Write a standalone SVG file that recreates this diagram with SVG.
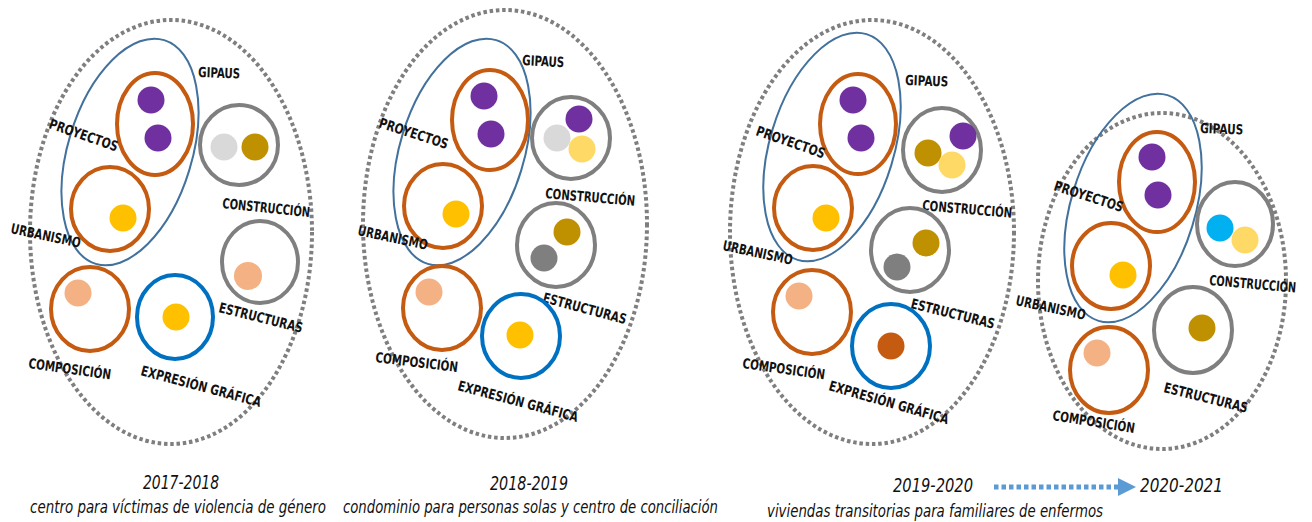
<svg xmlns="http://www.w3.org/2000/svg" width="1312" height="522" viewBox="0 0 1312 522">
<defs>
<style>
.outer{fill:none;stroke:#7f7f7f;stroke-width:4;stroke-dasharray:3.5 2.8}
.gip{fill:none;stroke:#41719c;stroke-width:2}
.or{fill:#fff;stroke:#c55a11;stroke-width:4}
.gr{fill:#fff;stroke:#7f7f7f;stroke-width:4}
.bl{fill:#fff;stroke:#0070c0;stroke-width:4}
.pu{fill:#7030a0}
.ye{fill:#ffc000}
.ly{fill:#ffd966}
.lg{fill:#d9d9d9}
.go{fill:#bf9000}
.dg{fill:#7f7f7f}
.sa{fill:#f4b183}
.cy{fill:#00b0f0}
.ro{fill:#c55a11}
.lbl{font-family:"Liberation Sans Narrow","DejaVu Sans Condensed","Liberation Sans",sans-serif;font-size:14px;fill:#111;font-weight:bold}
.yr{font-family:"Liberation Sans Narrow","DejaVu Sans Condensed","Liberation Sans",sans-serif;font-size:20px;fill:#111;font-style:italic}
.sub{font-family:"Liberation Sans Narrow","DejaVu Sans Condensed","Liberation Sans",sans-serif;font-size:17px;fill:#111;font-style:italic}
</style>
<marker id="ah" viewBox="0 0 10 10" refX="0" refY="5" markerWidth="3.6" markerHeight="3.6" orient="auto" markerUnits="strokeWidth">
<path d="M0,0 L10,5 L0,10 Z" fill="#5b9bd5"/>
</marker>
</defs>
<rect width="1312" height="522" fill="#fff"/>

<!-- Panel 1 -->
<g id="panel1">
<ellipse class="outer" cx="171" cy="232" rx="141" ry="212"/>
<g id="p1-gipaus"><ellipse class="gip" cx="130" cy="152" rx="62" ry="117" transform="rotate(17 130 152)"/>
<text class="lbl" transform="translate(198 77) rotate(2)" textLength="42" lengthAdjust="spacingAndGlyphs">GIPAUS</text></g>
<g id="p1-proyectos"><ellipse class="or" cx="155" cy="124" rx="38" ry="51"/>
<circle class="pu" cx="151" cy="100" r="13.5"/><circle class="pu" cx="158" cy="138" r="13.5"/>
<text class="lbl" transform="translate(48 128) rotate(19)" textLength="72" lengthAdjust="spacingAndGlyphs">PROYECTOS</text></g>
<g id="p1-urbanismo"><ellipse class="or" cx="110" cy="209" rx="39" ry="42"/>
<circle class="ye" cx="123" cy="218" r="13.5"/>
<text class="lbl" transform="translate(10 233) rotate(12)" textLength="71" lengthAdjust="spacingAndGlyphs">URBANISMO</text></g>
<g id="p1-construccion"><ellipse class="gr" cx="239" cy="145" rx="39" ry="40"/>
<circle class="lg" cx="224" cy="147" r="13.5"/><circle class="go" cx="255" cy="147" r="13.5"/>
<text class="lbl" transform="translate(222 208) rotate(6)" textLength="88" lengthAdjust="spacingAndGlyphs">CONSTRUCCIÓN</text></g>
<g id="p1-estructuras"><ellipse class="gr" cx="260" cy="262" rx="38" ry="41"/>
<circle class="sa" cx="248" cy="276" r="14"/>
<text class="lbl" transform="translate(218 312) rotate(14)" textLength="86" lengthAdjust="spacingAndGlyphs">ESTRUCTURAS</text></g>
<g id="p1-composicion"><ellipse class="or" cx="90" cy="309" rx="39" ry="42"/>
<circle class="sa" cx="78" cy="293" r="13.5"/>
<text class="lbl" transform="translate(28 368) rotate(8)" textLength="83" lengthAdjust="spacingAndGlyphs">COMPOSICIÓN</text></g>
<g id="p1-expresion"><ellipse class="bl" cx="175" cy="317" rx="38" ry="42"/>
<circle class="ye" cx="176" cy="317" r="13.5"/>
<text class="lbl" transform="translate(140 375) rotate(15)" textLength="124" lengthAdjust="spacingAndGlyphs">EXPRESIÓN GRÁFICA</text></g>
</g>

<!-- Panel 2 -->
<g id="panel2">
<ellipse class="outer" cx="505" cy="224" rx="142" ry="214"/>
<g id="p2-gipaus"><ellipse class="gip" cx="462" cy="152" rx="62" ry="117" transform="rotate(17 462 152)"/>
<text class="lbl" transform="translate(522 65) rotate(3)" textLength="42" lengthAdjust="spacingAndGlyphs">GIPAUS</text></g>
<g id="p2-proyectos"><ellipse class="or" cx="490" cy="120" rx="38" ry="50"/>
<circle class="pu" cx="484" cy="96" r="13.5"/><circle class="pu" cx="491" cy="134" r="13.5"/>
<text class="lbl" transform="translate(378 127) rotate(18)" textLength="72" lengthAdjust="spacingAndGlyphs">PROYECTOS</text></g>
<g id="p2-urbanismo"><ellipse class="or" cx="443" cy="206" rx="39" ry="42"/>
<circle class="ye" cx="456" cy="214" r="13.5"/>
<text class="lbl" transform="translate(357 235) rotate(12)" textLength="71" lengthAdjust="spacingAndGlyphs">URBANISMO</text></g>
<g id="p2-construccion"><ellipse class="gr" cx="571" cy="138" rx="39" ry="41"/>
<circle class="lg" cx="557" cy="138" r="13.5"/><circle class="pu" cx="579" cy="119" r="13.5"/><circle class="ly" cx="582" cy="149" r="13.5"/>
<text class="lbl" transform="translate(545 198) rotate(5)" textLength="90" lengthAdjust="spacingAndGlyphs">CONSTRUCCIÓN</text></g>
<g id="p2-estructuras"><ellipse class="gr" cx="556" cy="245" rx="39" ry="42"/>
<circle class="go" cx="567" cy="232" r="13.5"/><circle class="dg" cx="544" cy="258" r="13.5"/>
<text class="lbl" transform="translate(542 302) rotate(15)" textLength="86" lengthAdjust="spacingAndGlyphs">ESTRUCTURAS</text></g>
<g id="p2-composicion"><ellipse class="or" cx="442" cy="308" rx="39" ry="42"/>
<circle class="sa" cx="429" cy="292" r="13.5"/>
<text class="lbl" transform="translate(375 362) rotate(7)" textLength="83" lengthAdjust="spacingAndGlyphs">COMPOSICIÓN</text></g>
<g id="p2-expresion"><ellipse class="bl" cx="521" cy="336" rx="39" ry="42"/>
<circle class="ye" cx="520" cy="335" r="13.5"/>
<text class="lbl" transform="translate(457 390) rotate(15)" textLength="124" lengthAdjust="spacingAndGlyphs">EXPRESIÓN GRÁFICA</text></g>
</g>

<!-- Panel 3 -->
<g id="panel3">
<ellipse class="outer" cx="872" cy="232" rx="142" ry="212"/>
<g id="p3-gipaus"><ellipse class="gip" cx="832" cy="147" rx="62" ry="118" transform="rotate(17 832 147)"/>
<text class="lbl" transform="translate(905 85) rotate(2)" textLength="43" lengthAdjust="spacingAndGlyphs">GIPAUS</text></g>
<g id="p3-proyectos"><ellipse class="or" cx="858" cy="124" rx="38" ry="50"/>
<circle class="pu" cx="853" cy="100" r="13.5"/><circle class="pu" cx="861" cy="138" r="13.5"/>
<text class="lbl" transform="translate(755 135) rotate(19)" textLength="72" lengthAdjust="spacingAndGlyphs">PROYECTOS</text></g>
<g id="p3-urbanismo"><ellipse class="or" cx="813" cy="208" rx="39" ry="42"/>
<circle class="ye" cx="826" cy="218" r="13.5"/>
<text class="lbl" transform="translate(722 250) rotate(12)" textLength="71" lengthAdjust="spacingAndGlyphs">URBANISMO</text></g>
<g id="p3-construccion"><ellipse class="gr" cx="942" cy="150" rx="39" ry="42"/>
<circle class="go" cx="928" cy="153" r="13.5"/><circle class="pu" cx="963" cy="136" r="13.5"/><circle class="ly" cx="952" cy="165" r="13.5"/>
<text class="lbl" transform="translate(922 210) rotate(5)" textLength="90" lengthAdjust="spacingAndGlyphs">CONSTRUCCIÓN</text></g>
<g id="p3-estructuras"><ellipse class="gr" cx="910" cy="250" rx="39" ry="42"/>
<circle class="go" cx="926" cy="243" r="13.5"/><circle class="dg" cx="897" cy="267" r="13.5"/>
<text class="lbl" transform="translate(910 308) rotate(14)" textLength="86" lengthAdjust="spacingAndGlyphs">ESTRUCTURAS</text></g>
<g id="p3-composicion"><ellipse class="or" cx="812" cy="312" rx="39" ry="42"/>
<circle class="sa" cx="799" cy="296" r="13.5"/>
<text class="lbl" transform="translate(742 368) rotate(8)" textLength="83" lengthAdjust="spacingAndGlyphs">COMPOSICIÓN</text></g>
<g id="p3-expresion"><ellipse class="bl" cx="891" cy="346" rx="39" ry="42"/>
<circle class="ro" cx="891" cy="346" r="13.5"/>
<text class="lbl" transform="translate(828 390) rotate(16)" textLength="124" lengthAdjust="spacingAndGlyphs">EXPRESIÓN GRÁFICA</text></g>
</g>

<!-- Panel 4 -->
<g id="panel4">
<ellipse class="outer" cx="1162" cy="281" rx="124" ry="168"/>
<g id="p4-gipaus"><ellipse class="gip" cx="1133" cy="208" rx="62" ry="118" transform="rotate(17 1133 208)"/>
<text class="lbl" transform="translate(1200 133) rotate(2)" textLength="43" lengthAdjust="spacingAndGlyphs">GIPAUS</text></g>
<g id="p4-proyectos"><ellipse class="or" cx="1157" cy="182" rx="38" ry="50"/>
<circle class="pu" cx="1152" cy="157" r="13.5"/><circle class="pu" cx="1158" cy="195" r="13.5"/>
<text class="lbl" transform="translate(1053 190) rotate(18)" textLength="72" lengthAdjust="spacingAndGlyphs">PROYECTOS</text></g>
<g id="p4-urbanismo"><ellipse class="or" cx="1111" cy="266" rx="39" ry="43"/>
<circle class="ye" cx="1123" cy="275" r="13.5"/>
<text class="lbl" transform="translate(1015 305) rotate(12)" textLength="71" lengthAdjust="spacingAndGlyphs">URBANISMO</text></g>
<g id="p4-construccion"><ellipse class="gr" cx="1235" cy="224" rx="38" ry="42"/>
<circle class="cy" cx="1220" cy="228" r="13.5"/><circle class="ly" cx="1245" cy="240" r="13.5"/>
<text class="lbl" style="font-size:11px" transform="translate(1209 285) rotate(5) scale(1 1.27)" textLength="87" lengthAdjust="spacingAndGlyphs">CONSTRUCCIÓN</text></g>
<g id="p4-estructuras"><ellipse class="gr" cx="1193" cy="330" rx="39" ry="43"/>
<circle class="go" cx="1202" cy="328" r="13.5"/>
<text class="lbl" transform="translate(1163 392) rotate(14)" textLength="86" lengthAdjust="spacingAndGlyphs">ESTRUCTURAS</text></g>
<g id="p4-composicion"><ellipse class="or" cx="1109" cy="370" rx="39" ry="43"/>
<circle class="sa" cx="1097" cy="353" r="13.5"/>
<text class="lbl" transform="translate(1052 420) rotate(9)" textLength="83" lengthAdjust="spacingAndGlyphs">COMPOSICIÓN</text></g>
</g>

<!-- Captions -->
<g id="captions">
<text class="yr" x="143" y="489" textLength="76" lengthAdjust="spacingAndGlyphs">2017-2018</text>
<text class="sub" x="30" y="513" textLength="296" lengthAdjust="spacingAndGlyphs">centro para víctimas de violencia de género</text>
<text class="yr" x="490" y="490" textLength="78" lengthAdjust="spacingAndGlyphs">2018-2019</text>
<text class="sub" x="343" y="513" textLength="375" lengthAdjust="spacingAndGlyphs">condominio para personas solas y centro de conciliación</text>
<text class="yr" x="893" y="492" textLength="80" lengthAdjust="spacingAndGlyphs">2019-2020</text>
<text class="sub" x="767" y="517" textLength="336" lengthAdjust="spacingAndGlyphs">viviendas transitorias para familiares de enfermos</text>
<text class="yr" x="1140" y="492" textLength="83" lengthAdjust="spacingAndGlyphs">2020-2021</text>
</g>

<g id="connectors">
<line x1="994" y1="487" x2="1118" y2="487" stroke="#5b9bd5" stroke-width="5" stroke-dasharray="4.5 3" marker-end="url(#ah)"/>
</g>
</svg>
